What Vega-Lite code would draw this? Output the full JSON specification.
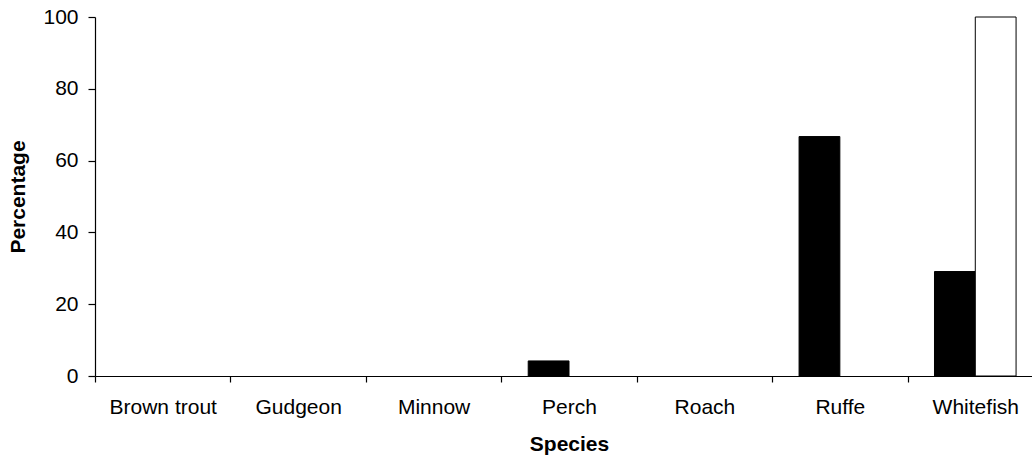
{
  "$schema": "https://vega.github.io/schema/vega-lite/v6.json",
  "autosize": {"type": "none"},
  "padding": {"left": 95, "top": 17, "right": 0, "bottom": 88},
  "width": 948,
  "height": 359,
  "background": "white",
  "config": {
    "view": {"stroke": null},
    "font": "Liberation Sans",
    "axis": {"grid": false, "domainColor": "black", "tickColor": "black", "labelColor": "black", "titleColor": "black", "labelFont": "Liberation Sans", "titleFont": "Liberation Sans"}
  },
  "data": {
    "values": [
      {"species": "Brown trout", "series": "Series1", "pct": 0},
      {"species": "Brown trout", "series": "Series2", "pct": 0},
      {"species": "Gudgeon", "series": "Series1", "pct": 0},
      {"species": "Gudgeon", "series": "Series2", "pct": 0},
      {"species": "Minnow", "series": "Series1", "pct": 0},
      {"species": "Minnow", "series": "Series2", "pct": 0},
      {"species": "Perch", "series": "Series1", "pct": 4.2},
      {"species": "Perch", "series": "Series2", "pct": 0},
      {"species": "Roach", "series": "Series1", "pct": 0},
      {"species": "Roach", "series": "Series2", "pct": 0},
      {"species": "Ruffe", "series": "Series1", "pct": 66.7},
      {"species": "Ruffe", "series": "Series2", "pct": 0},
      {"species": "Whitefish", "series": "Series1", "pct": 29.1},
      {"species": "Whitefish", "series": "Series2", "pct": 100}
    ]
  },
  "mark": {"type": "bar", "stroke": "black", "strokeWidth": 1},
  "encoding": {
    "x": {
      "field": "species", "type": "nominal", "sort": null,
      "scale": {"paddingInner": 0, "paddingOuter": 0},
      "axis": {"title": "Species", "labelAngle": 0, "labelFontSize": 21, "titleFontSize": 21, "titleFontWeight": "bold", "tickBand": "extent", "tickSize": 6, "labelPadding": 14, "titlePadding": 16, "domainWidth": 1.2, "tickWidth": 1.2}
    },
    "xOffset": {
      "field": "series", "type": "nominal",
      "scale": {"paddingInner": 0, "paddingOuter": 0.66}
    },
    "y": {
      "field": "pct", "type": "quantitative",
      "scale": {"domain": [0, 100], "nice": false},
      "axis": {"title": "Percentage", "values": [0, 20, 40, 60, 80, 100], "labelFontSize": 21, "titleFontSize": 21, "titleFontWeight": "bold", "tickSize": 7, "labelPadding": 10, "titlePadding": 14, "domainWidth": 1.2, "tickWidth": 1.2}
    },
    "color": {
      "field": "series", "type": "nominal",
      "scale": {"range": ["black", "white"]},
      "legend": null
    },
    "strokeOpacity": {
      "condition": {"test": "datum.pct > 0", "value": 1},
      "value": 0
    }
  }
}
